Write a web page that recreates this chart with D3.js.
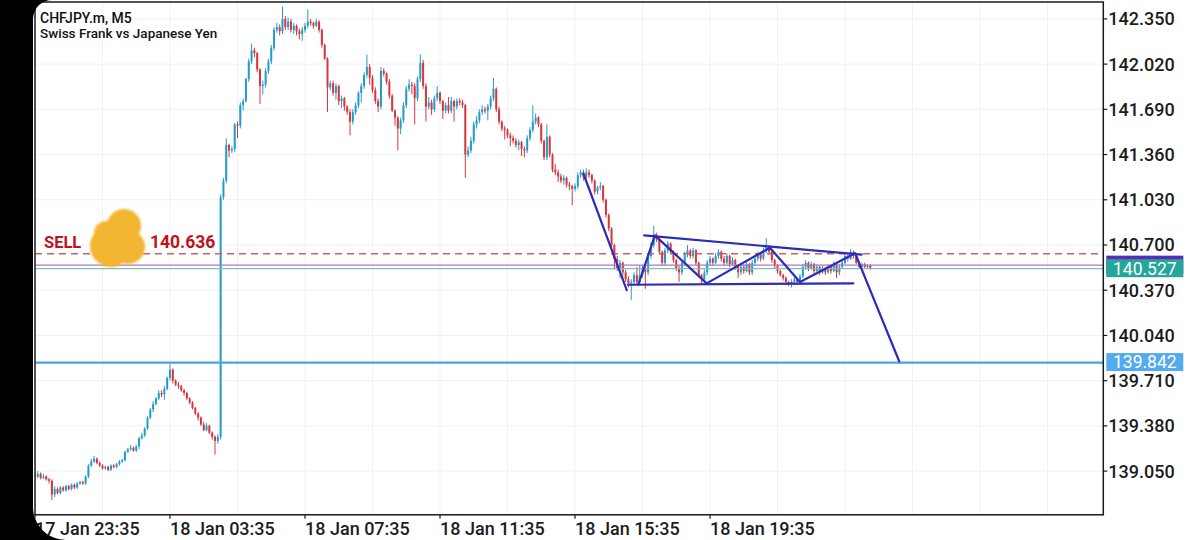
<!DOCTYPE html>
<html>
<head>
<meta charset="utf-8">
<script src="https://cdn.jsdelivr.net/npm/d3@7"></script>
<style>
  body { margin: 0; background: #fff; }
  svg { display: block; }
</style>
</head>
<body>
<svg id="chart" width="1200" height="540"></svg>
<script>
// CHFJPY.m M5 candles (open = previous close)
const firstOpen = 139.02
const closes = [
  139.01,139.03,139.00,139.01,138.99,138.98,138.88,138.92,138.89,138.93,
  138.91,138.94,138.92,138.95,138.93,138.96,138.97,138.96,139.01,139.09,
  139.12,139.14,139.11,139.09,139.07,139.08,139.06,139.09,139.08,139.10,
  139.12,139.13,139.19,139.21,139.22,139.20,139.23,139.29,139.31,139.36,
  139.44,139.50,139.54,139.58,139.62,139.61,139.65,139.73,139.79,139.71,
  139.68,139.67,139.64,139.62,139.58,139.55,139.51,139.47,139.44,139.39,
  139.35,139.38,139.33,139.30,139.27,139.30,141.05,
  141.17,141.43,141.39,141.40,141.58,141.57,141.72,141.75,141.91,142.04,
  142.12,142.10,141.98,141.86,141.87,141.97,142.04,142.14,142.27,142.29,
  142.26,142.35,142.29,142.33,142.27,142.30,142.26,142.24,142.27,142.30,
  142.33,142.32,142.30,142.33,142.27,142.16,142.06,
  141.85,141.88,141.81,141.86,141.75,141.77,141.71,141.67,141.60,141.67,
  141.72,141.81,141.86,141.94,142.00,141.92,141.83,141.75,141.71,141.97,
  141.95,141.89,141.79,141.68,141.63,141.55,141.61,141.72,141.84,141.87,
  141.86,141.77,141.91,142.03,141.86,141.71,141.74,141.69,141.77,141.81,
  141.75,141.68,141.72,141.68,141.75,141.71,141.75,141.74,141.72,141.36,
  141.39,141.46,141.58,141.61,141.67,141.69,141.68,141.71,141.77,141.84,
  141.69,141.60,141.55,141.54,141.50,141.48,141.46,141.43,141.45,141.40,
  141.39,141.48,141.54,141.60,141.63,141.58,141.46,141.34,141.49,141.36,
  141.25,141.23,141.20,141.17,141.19,141.14,141.13,141.11,141.13,141.21,
  141.23,141.20,141.23,141.21,141.17,141.09,141.12,141.13,141.03,
  140.92,140.82,140.70,140.60,140.53,140.57,140.50,140.45,140.42,140.43,
  140.48,140.43,140.48,140.53,140.50,140.62,140.70,140.77,140.74,140.65,
  140.57,140.66,140.71,140.65,140.59,140.53,140.50,140.57,140.63,140.66,
  140.62,140.66,140.57,140.48,140.45,140.50,140.57,140.60,140.57,140.62,
  140.65,140.60,140.57,140.62,140.56,140.59,140.54,140.50,140.54,140.51,
  140.56,140.50,140.57,140.60,140.63,140.60,140.66,140.69,140.65,140.59,
  140.55,140.51,140.48,140.46,140.43,140.42,140.43,140.45,140.43,140.47,
  140.54,140.57,140.53,140.56,140.51,140.54,140.50,140.53,140.50,140.54,
  140.51,140.56,140.50,140.54,140.57,140.62,140.60,140.65,140.62,140.57,
  140.54,140.56,140.54,140.55,140.53
]
const highs = [
  139.04,139.05,139.04,139.03,139.02,139.00,138.99,138.94,138.93,138.94,
  138.94,138.95,138.95,138.96,138.96,138.97,138.98,138.98,139.02,139.10,
  139.14,139.16,139.15,139.12,139.10,139.09,139.09,139.10,139.10,139.11,
  139.13,139.14,139.20,139.22,139.24,139.23,139.24,139.30,139.33,139.37,
  139.45,139.51,139.56,139.59,139.64,139.64,139.67,139.74,139.83,139.80,
  139.72,139.70,139.68,139.65,139.63,139.59,139.56,139.52,139.48,139.45,
  139.41,139.40,139.39,139.34,139.31,139.32,141.07,
  141.19,141.48,141.44,141.42,141.59,141.60,141.74,141.77,141.92,142.06,
  142.17,142.14,142.11,141.99,141.90,141.99,142.06,142.16,142.29,142.32,
  142.31,142.44,142.37,142.36,142.35,142.32,142.31,142.28,142.29,142.32,
  142.42,142.35,142.33,142.35,142.34,142.28,142.17,
  142.07,141.90,141.90,141.88,141.87,141.79,141.78,141.72,141.69,141.69,
  141.74,141.82,141.88,141.96,142.09,142.02,141.94,141.85,141.77,142.00,
  141.99,141.96,141.91,141.80,141.69,141.64,141.63,141.74,141.86,141.91,
  141.89,141.88,141.93,142.09,142.05,141.88,141.78,141.76,141.79,141.86,
  141.82,141.76,141.74,141.78,141.78,141.76,141.77,141.77,141.76,141.73,
  141.42,141.49,141.60,141.64,141.69,141.72,141.71,141.73,141.79,141.92,
  141.85,141.71,141.61,141.57,141.55,141.52,141.50,141.48,141.47,141.46,
  141.42,141.50,141.56,141.72,141.66,141.64,141.59,141.47,141.58,141.50,
  141.37,141.29,141.25,141.22,141.21,141.20,141.16,141.14,141.15,141.23,
  141.25,141.25,141.26,141.25,141.22,141.18,141.13,141.16,141.14,
  141.04,140.93,140.83,140.71,140.62,140.59,140.58,140.52,140.47,140.45,
  140.50,140.54,140.55,140.55,140.56,140.64,140.72,140.84,140.79,140.75,
  140.66,140.68,140.73,140.72,140.66,140.60,140.55,140.59,140.65,140.70,
  140.67,140.68,140.67,140.58,140.49,140.52,140.59,140.62,140.61,140.64,
  140.67,140.66,140.62,140.64,140.63,140.61,140.60,140.55,140.56,140.56,
  140.58,140.57,140.59,140.62,140.65,140.64,140.68,140.75,140.70,140.66,
  140.60,140.56,140.52,140.49,140.47,140.44,140.45,140.47,140.46,140.49,
  140.56,140.59,140.58,140.58,140.57,140.56,140.55,140.55,140.54,140.56,
  140.55,140.58,140.57,140.56,140.59,140.64,140.63,140.67,140.66,140.63,
  140.58,140.57,140.57,140.56,140.56
]
const lows = [
  139.00,139.00,138.99,138.99,138.98,138.96,138.84,138.86,138.88,138.88,
  138.90,138.90,138.91,138.91,138.92,138.92,138.95,138.95,138.95,139.00,
  139.08,139.11,139.10,139.08,139.06,139.06,139.05,139.05,139.07,139.07,
  139.09,139.11,139.12,139.18,139.20,139.19,139.19,139.21,139.28,139.30,
  139.35,139.43,139.48,139.53,139.57,139.59,139.57,139.64,139.71,139.69,
  139.67,139.65,139.63,139.60,139.57,139.54,139.50,139.46,139.42,139.38,
  139.34,139.34,139.32,139.28,139.17,139.25,139.28,
  141.03,141.15,141.34,141.37,141.38,141.48,141.55,141.68,141.74,141.89,
  142.02,142.07,141.96,141.73,141.80,141.85,141.95,142.02,142.12,142.25,
  142.23,142.24,142.27,142.27,142.25,142.24,142.23,142.20,142.19,142.25,
  142.28,142.30,142.28,142.29,142.25,142.14,142.05,
  141.67,141.83,141.79,141.76,141.72,141.70,141.68,141.65,141.50,141.58,
  141.65,141.70,141.74,141.84,141.92,141.87,141.81,141.73,141.67,141.69,
  141.93,141.87,141.77,141.67,141.57,141.39,141.51,141.59,141.70,141.82,
  141.80,141.58,141.75,141.89,141.84,141.60,141.69,141.65,141.67,141.75,
  141.73,141.62,141.66,141.66,141.66,141.60,141.69,141.72,141.70,141.19,
  141.34,141.37,141.44,141.55,141.59,141.65,141.66,141.61,141.69,141.75,
  141.67,141.58,141.53,141.47,141.48,141.42,141.44,141.41,141.39,141.35,
  141.34,141.37,141.46,141.52,141.58,141.56,141.44,141.32,141.32,141.34,
  141.23,141.21,141.16,141.15,141.14,141.12,141.10,140.99,141.09,141.11,
  141.19,141.17,141.18,141.19,141.15,141.07,141.07,141.10,141.01,
  140.90,140.80,140.68,140.52,140.51,140.46,140.45,140.43,140.39,140.30,
  140.41,140.41,140.41,140.46,140.38,140.48,140.60,140.68,140.72,140.63,
  140.55,140.55,140.64,140.63,140.57,140.51,140.43,140.48,140.55,140.61,
  140.60,140.60,140.55,140.47,140.41,140.43,140.48,140.55,140.55,140.56,
  140.60,140.58,140.55,140.56,140.54,140.55,140.52,140.46,140.48,140.49,
  140.50,140.48,140.48,140.55,140.58,140.58,140.59,140.64,140.63,140.57,
  140.53,140.49,140.47,140.44,140.42,140.40,140.39,140.41,140.41,140.42,
  140.46,140.52,140.51,140.52,140.49,140.50,140.48,140.49,140.48,140.49,
  140.49,140.50,140.46,140.48,140.53,140.56,140.58,140.59,140.60,140.56,
  140.53,140.53,140.53,140.53,140.52
]

const priceTicks = [142.35, 142.02, 141.69, 141.36, 141.03, 140.70, 140.37, 140.04, 139.71, 139.38, 139.05]
const timeTickIdx = [0, 48, 96, 144, 192, 240]
const timeLabels = ['17 Jan 23:35', '18 Jan 03:35', '18 Jan 07:35', '18 Jan 11:35', '18 Jan 15:35', '18 Jan 19:35']

const sellPrice = 140.636
const askPrice = 140.553
const bidPrice = 140.527
const targetPrice = 139.842

// hand drawn objects: [candle index, price]
const drawnLines = [
  [[195, 141.22], [210.4, 140.37]],
  [[210.8, 140.41], [291, 140.42]],
  [[216.6, 140.77], [293.9, 140.63]],
  [[214.5, 140.41], [220.4, 140.77], [238.8, 140.42], [261.3, 140.68], [272, 140.43], [291.6, 140.64], [307.3, 139.85]]
]

const bullColor = '#239ccb'
const bearColor = '#d8363c'
const font = 'Roboto, "Noto Sans", sans-serif'

const plot = { left: 35, right: 1103.3, top: 2, bottom: 514.8 }
const x = d3.scaleLinear().domain([0, 48]).range([35, 170])
const y = d3.scaleLinear().domain([139.05, 142.35]).range([471.1, 18.9])

const svg = d3.select('#chart')
svg.append('rect').attr('width', 1200).attr('height', 540).attr('fill', '#fff')

const defs = svg.append('defs')
defs.append('clipPath').attr('id', 'plotClip')
  .append('rect')
  .attr('x', plot.left).attr('y', plot.top)
  .attr('width', plot.right - plot.left).attr('height', plot.bottom - plot.top)
defs.append('filter').attr('id', 'soft')
  .append('feGaussianBlur').attr('stdDeviation', 1.2)

// faint grid
const grid = svg.append('g').attr('clip-path', 'url(#plotClip)')
d3.range(0, 400, 24).forEach(i => {
  grid.append('line')
    .attr('x1', x(i)).attr('x2', x(i))
    .attr('y1', plot.top).attr('y2', plot.bottom)
    .attr('stroke', '#f1f1f1').attr('stroke-width', 1)
})
priceTicks.forEach(p => {
  grid.append('line')
    .attr('x1', plot.left).attr('x2', plot.right)
    .attr('y1', y(p)).attr('y2', y(p))
    .attr('stroke', '#f1f1f1').attr('stroke-width', 1)
})

// candles
const candles = closes.map((c, i) => {
  const o = i === 0 ? firstOpen : closes[i - 1]
  return { i, o, c, h: Math.max(highs[i], o, c), l: Math.min(lows[i], o, c) }
})
const cg = svg.append('g').attr('clip-path', 'url(#plotClip)')
cg.selectAll('line.wick').data(candles).join('line')
  .attr('class', 'wick')
  .attr('x1', d => x(d.i)).attr('x2', d => x(d.i))
  .attr('y1', d => y(d.h)).attr('y2', d => y(d.l))
  .attr('stroke', d => d.c >= d.o ? bullColor : bearColor)
  .attr('stroke-width', 1)
cg.selectAll('rect.body').data(candles).join('rect')
  .attr('class', 'body')
  .attr('x', d => x(d.i) - 1)
  .attr('width', 2)
  .attr('y', d => y(Math.max(d.o, d.c)))
  .attr('height', d => Math.max(1, Math.abs(y(d.o) - y(d.c))))
  .attr('fill', d => d.c >= d.o ? bullColor : bearColor)

// price levels
const lv = svg.append('g').attr('clip-path', 'url(#plotClip)')
lv.append('line')
  .attr('x1', plot.left).attr('x2', plot.right)
  .attr('y1', y(sellPrice)).attr('y2', y(sellPrice))
  .attr('stroke', '#c46464').attr('stroke-width', 1.3).attr('stroke-dasharray', '7,5')
lv.append('line')
  .attr('x1', plot.left).attr('x2', plot.right)
  .attr('y1', y(askPrice)).attr('y2', y(askPrice))
  .attr('stroke', '#a77bc4').attr('stroke-width', 1.3)
lv.append('line')
  .attr('x1', plot.left).attr('x2', plot.right)
  .attr('y1', y(bidPrice)).attr('y2', y(bidPrice))
  .attr('stroke', '#86bdb8').attr('stroke-width', 1.3)
lv.append('line')
  .attr('x1', plot.left).attr('x2', plot.right)
  .attr('y1', y(targetPrice)).attr('y2', y(targetPrice))
  .attr('stroke', '#4aa3e2').attr('stroke-width', 2.3)

// drawn trend lines
const line = d3.line().x(d => x(d[0])).y(d => y(d[1]))
lv.selectAll('path.trend').data(drawnLines).join('path')
  .attr('class', 'trend')
  .attr('d', line)
  .attr('fill', 'none')
  .attr('stroke', '#2c2cb8')
  .attr('stroke-width', 2.2)
  .attr('stroke-linecap', 'round')
  .attr('stroke-linejoin', 'round')

// sell label with the blurred blob over the volume
svg.append('text')
  .attr('x', 44).attr('y', 248)
  .attr('font-family', font).attr('font-size', 16.5).attr('font-weight', 700)
  .attr('fill', '#c0141c')
  .text('SELL')
svg.append('text')
  .attr('x', 150).attr('y', 248)
  .attr('font-family', font).attr('font-size', 17.5).attr('font-weight', 700)
  .attr('fill', '#c0141c')
  .text(sellPrice.toFixed(3))
const blob = svg.append('g').attr('filter', 'url(#soft)').attr('fill', '#f2b632')
blob.append('circle').attr('cx', 111).attr('cy', 246).attr('r', 21)
blob.append('circle').attr('cx', 128).attr('cy', 247).attr('r', 17)
blob.append('circle').attr('cx', 124).attr('cy', 226).attr('r', 17)
blob.append('circle').attr('cx', 106).attr('cy', 233).attr('r', 12)

// frame
svg.append('rect')
  .attr('x', plot.left).attr('y', plot.top)
  .attr('width', plot.right - plot.left).attr('height', plot.bottom - plot.top)
  .attr('fill', 'none').attr('stroke', '#1a1a1a').attr('stroke-width', 1.5)

// price axis
const ya = svg.append('g')
priceTicks.forEach(p => {
  ya.append('line')
    .attr('x1', plot.right).attr('x2', plot.right + 4)
    .attr('y1', y(p)).attr('y2', y(p))
    .attr('stroke', '#1a1a1a').attr('stroke-width', 1.2)
  ya.append('text')
    .attr('x', plot.right + 5).attr('y', y(p))
    .attr('dy', '0.36em')
    .attr('font-family', font).attr('font-size', 18).attr('font-weight', 500)
    .attr('fill', '#1c1c1c')
    .text(p.toFixed(3))
})

// price labels for ask / bid / target
const tag = (price, fill, label) => {
  ya.append('rect')
    .attr('x', plot.right + 3).attr('y', y(price) - 9.5)
    .attr('width', 77).attr('height', 18)
    .attr('fill', fill)
  if (label) {
    ya.append('text')
      .attr('x', plot.right + 41.5).attr('y', y(price) - 0.5)
      .attr('dy', '0.36em').attr('text-anchor', 'middle')
      .attr('font-family', font).attr('font-size', 17.5)
      .attr('fill', '#fff')
      .text(label)
  }
}
tag(askPrice, '#5b2bb5', null)
tag(bidPrice, '#26a69a', bidPrice.toFixed(3))
tag(targetPrice, '#55aaee', targetPrice.toFixed(3))

// time axis
const xa = svg.append('g')
timeTickIdx.forEach((t, k) => {
  xa.append('line')
    .attr('x1', x(t)).attr('x2', x(t))
    .attr('y1', plot.bottom).attr('y2', plot.bottom + 4)
    .attr('stroke', '#1a1a1a').attr('stroke-width', 1.2)
  xa.append('text')
    .attr('x', x(t)).attr('y', 535)
    .attr('font-family', font).attr('font-size', 18).attr('font-weight', 500)
    .attr('fill', '#1c1c1c')
    .text(timeLabels[k])
})

// title
svg.append('text')
  .attr('x', 40).attr('y', 22.5)
  .attr('font-family', font).attr('font-size', 14).attr('font-weight', 500)
  .attr('fill', '#111')
  .text('CHFJPY.m, M5')
svg.append('text')
  .attr('x', 40).attr('y', 38)
  .attr('font-family', font).attr('font-size', 13.5).attr('font-weight', 500)
  .attr('fill', '#111')
  .text('Swiss Frank vs Japanese Yen')

// phone screen edge on the left
svg.append('rect').attr('x', 0).attr('y', 0).attr('width', 33).attr('height', 540).attr('fill', '#000')
svg.append('path').attr('d', 'M33,0 L52,0 A19,19 0 0 0 33,19 Z').attr('fill', '#000')
svg.append('path').attr('d', 'M33,505 A33,33 0 0 0 66,540 L33,540 Z').attr('fill', '#000')
</script>
</body>
</html>
